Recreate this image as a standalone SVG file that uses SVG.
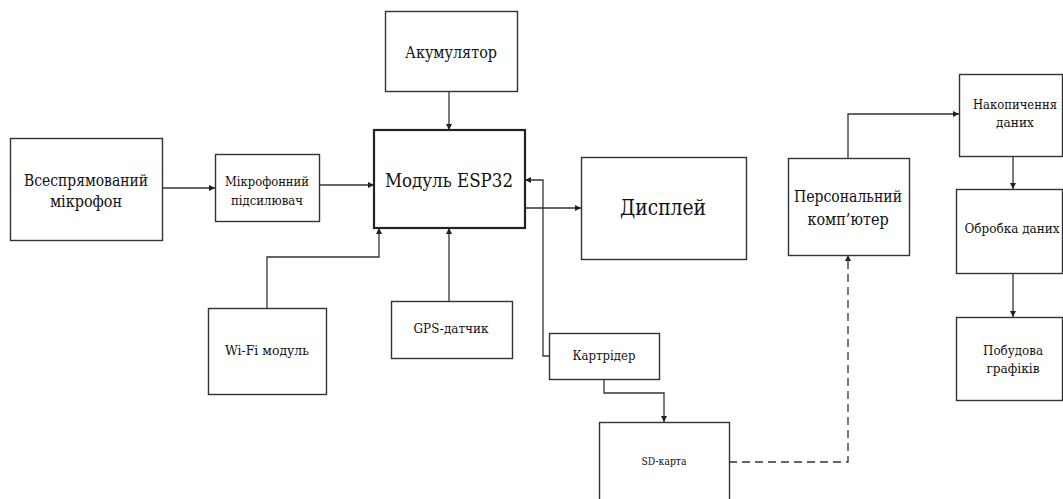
<svg xmlns="http://www.w3.org/2000/svg" width="1063" height="499" viewBox="0 0 1063 499">
<defs>
<marker id="ah" viewBox="0 0 10 10" refX="10" refY="5" markerWidth="7" markerHeight="6" markerUnits="userSpaceOnUse" orient="auto">
<path d="M0,0 L10,5 L0,10 z" fill="#222"/>
</marker>
<style>
.box{fill:#fff;stroke:#333;stroke-width:1.4}
.thick{stroke:#222;stroke-width:2.2}
.t{font-family:"DejaVu Serif Condensed","DejaVu Serif","Liberation Serif",serif;fill:#111;text-anchor:middle}
.c{fill:none;stroke:#333;stroke-width:1.3}
.d{stroke-dasharray:8 5}
</style>
</defs>
<rect width="1063" height="499" fill="#fff"/>
<g id="connectors">
<path class="c" d="M162,188 H215" marker-end="url(#ah)"/>
<path class="c" d="M319,185 H374" marker-end="url(#ah)"/>
<path class="c" d="M449,91 V130" marker-end="url(#ah)"/>
<path class="c" d="M267,308 V257 H379 V228" marker-end="url(#ah)"/>
<path class="c" d="M449,301 V228" marker-end="url(#ah)"/>
<path class="c" d="M525,208 H581" marker-end="url(#ah)"/>
<path class="c" d="M549,356 H543 V180 H525" marker-end="url(#ah)"/>
<path class="c" d="M604,379 V393 H664 V422" marker-end="url(#ah)"/>
<path class="c d" d="M729,462 H848 V255" marker-end="url(#ah)"/>
<path class="c" d="M848,158 V114 H959" marker-end="url(#ah)"/>
<path class="c" d="M1013,156 V189" marker-end="url(#ah)"/>
<path class="c" d="M1013,273 V317" marker-end="url(#ah)"/>
</g>
<g id="mic">
<rect class="box" x="10.5" y="138.5" width="152" height="102"/>
<text class="t" x="86" y="186" font-size="16" textLength="124" lengthAdjust="spacingAndGlyphs">Всеспрямований</text>
<text class="t" x="86" y="207" font-size="16">мікрофон</text>
</g>
<g id="amp">
<rect class="box" x="215.5" y="154.5" width="104" height="67"/>
<text class="t" x="267" y="186" font-size="13" textLength="84" lengthAdjust="spacingAndGlyphs">Мікрофонний</text>
<text class="t" x="267" y="205" font-size="13">підсилювач</text>
</g>
<g id="battery">
<rect class="box" x="385.5" y="11.5" width="132" height="80"/>
<text class="t" x="451" y="58" font-size="16" textLength="92" lengthAdjust="spacingAndGlyphs">Акумулятор</text>
</g>
<g id="esp32">
<rect class="box thick" x="374" y="130" width="151" height="98"/>
<text class="t" x="449" y="187" font-size="18" textLength="128" lengthAdjust="spacingAndGlyphs">Модуль ESP32</text>
</g>
<g id="display">
<rect class="box" x="581.5" y="157.5" width="165" height="102"/>
<text class="t" x="663" y="215" font-size="22" textLength="86" lengthAdjust="spacingAndGlyphs">Дисплей</text>
</g>
<g id="wifi">
<rect class="box" x="208.5" y="308.5" width="118" height="86"/>
<text class="t" x="267" y="355" font-size="13" textLength="84" lengthAdjust="spacingAndGlyphs">Wi-Fi модуль</text>
</g>
<g id="gps">
<rect class="box" x="391.5" y="301.5" width="121" height="57"/>
<text class="t" x="451" y="333" font-size="13.5" textLength="75" lengthAdjust="spacingAndGlyphs">GPS-датчик</text>
</g>
<g id="cardreader">
<rect class="box" x="549.5" y="333.5" width="110" height="46"/>
<text class="t" x="604" y="360" font-size="13.5" textLength="63" lengthAdjust="spacingAndGlyphs">Картрідер</text>
</g>
<g id="sdcard">
<rect class="box" x="599.5" y="422.5" width="130" height="90"/>
<text class="t" x="664" y="465" font-size="11" textLength="45" lengthAdjust="spacingAndGlyphs">SD-карта</text>
</g>
<g id="pc">
<rect class="box" x="788.5" y="158.5" width="121" height="97"/>
<text class="t" x="848" y="202" font-size="16" textLength="108" lengthAdjust="spacingAndGlyphs">Персональний</text>
<text class="t" x="848" y="225" font-size="16">комп’ютер</text>
</g>
<g id="storage">
<rect class="box" x="959.5" y="74.5" width="103" height="82"/>
<text class="t" x="1015" y="109" font-size="13.5" textLength="84" lengthAdjust="spacingAndGlyphs">Накопичення</text>
<text class="t" x="1015" y="127" font-size="13.5">даних</text>
</g>
<g id="processing">
<rect class="box" x="956.5" y="189.5" width="106" height="84"/>
<text class="t" x="1012" y="233" font-size="13.5" textLength="95" lengthAdjust="spacingAndGlyphs">Обробка даних</text>
</g>
<g id="charts">
<rect class="box" x="956.5" y="317.5" width="106" height="83"/>
<text class="t" x="1013" y="355" font-size="13.5" textLength="60" lengthAdjust="spacingAndGlyphs">Побудова</text>
<text class="t" x="1013" y="373" font-size="13.5">графіків</text>
</g>
</svg>
